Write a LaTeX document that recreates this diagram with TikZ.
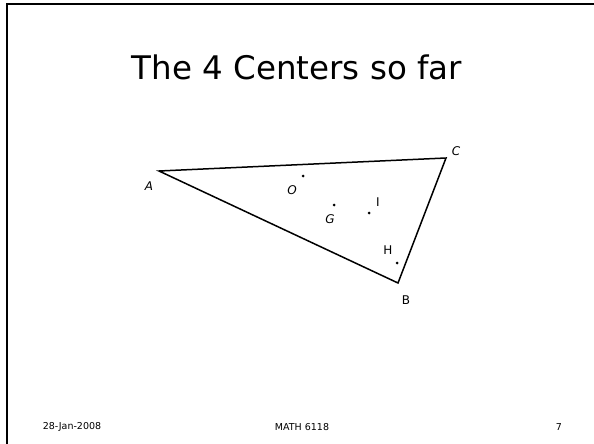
\documentclass[tikz,border=0pt]{standalone}
\usepackage{fontspec}
\setmainfont{DejaVu Sans}
\begin{document}
\begin{tikzpicture}[x=1pt,y=-1pt,
  tri/.style={line width=1.5pt,line join=miter},
  pt/.style={circle,fill=black,inner sep=0pt,minimum size=3pt},
  lab/.style={font=\fontsize{12}{14}\selectfont,inner sep=0pt},
  ilab/.style={lab,font=\fontsize{12}{14}\selectfont\itshape},
  foot/.style={font=\fontsize{9.5}{11}\selectfont,inner sep=0pt},
  frame/.style={line width=2pt}]
\useasboundingbox (0,0) rectangle (594,444);
\draw[frame] (7,444) -- (7,4) -- (594,4);
\node[font=\fontsize{32.5}{38}\selectfont,inner sep=0pt,anchor=base] (title) at (297,80) {The 4 Centers so far};
\coordinate (A) at (159,171);
\coordinate (B) at (398,283);
\coordinate (C) at (446,158);
\draw[tri] (A) -- (C) -- (B) -- cycle;
\node[ilab] (la) at (149,186) {A};
\node[lab] (lb) at (406,300) {B};
\node[ilab] (lc) at (456,151) {C};
\node[pt] (O) at (303,176) {};
\node[ilab] (lo) at (292,190) {O};
\node[pt] (G) at (334,205) {};
\node[ilab] (lg) at (330,219) {G};
\node[pt] (I) at (369,213) {};
\node[lab] (li) at (378,202) {I};
\node[pt] (H) at (397,263) {};
\node[lab] (lh) at (388,250) {H};
\node[foot] (date) at (72,427) {28-Jan-2008};
\node[foot] (course) at (302,427) {MATH 6118};
\node[foot] (page) at (559,427) {7};
\end{tikzpicture}
\end{document}
